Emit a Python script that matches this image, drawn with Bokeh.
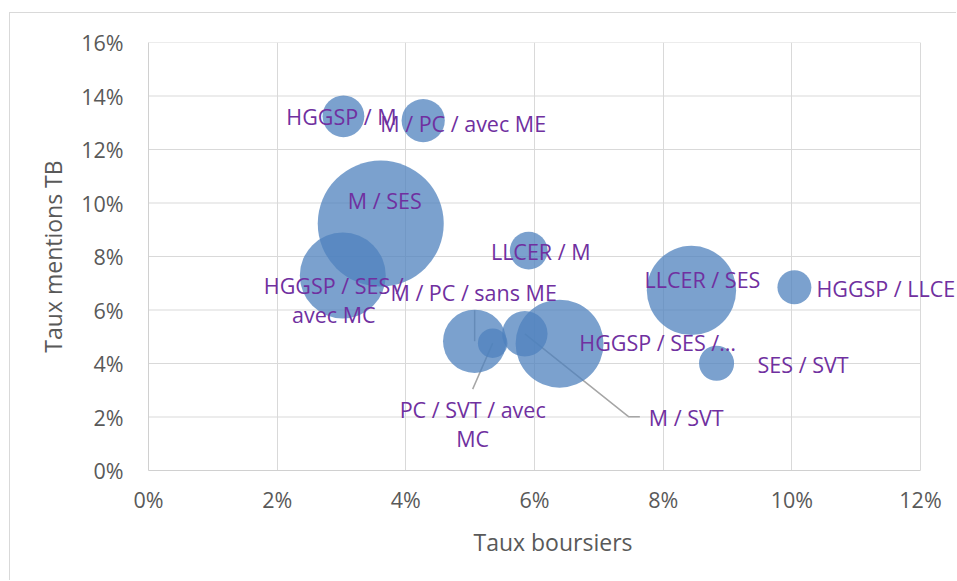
from bokeh.plotting import figure
from bokeh.models import (ColumnDataSource, LabelSet, SingleIntervalTicker,
                          PrintfTickFormatter, Range1d)
from bokeh.core.properties import value
from bokeh.embed import file_html
from bokeh.resources import INLINE
import math

# ---- data (percent units) ----
names = ["HGGSP / M", "M / PC / avec ME", "M / SES", "HGGSP / SES /\navec MC",
         "LLCER / M", "M / PC / sans ME", "PC / SVT / avec\nMC", "M / SVT",
         "HGGSP / SES /…", "LLCER / SES", "HGGSP / LLCER", "SES / SVT"]
taux_boursiers = [3.03, 4.27, 3.61, 3.02, 5.91, 5.07, 5.35, 5.85, 6.39, 8.44, 10.04, 8.83]
taux_mentions_tb = [13.24, 13.08, 9.23, 7.29, 8.22, 4.83, 4.76, 5.11, 4.74, 6.73, 6.85, 4.01]
effectifs = [44, 47, 400, 186, 36, 101, 22, 52, 195, 201, 29, 31]
x_axis_max = 12
y_axis_max = 16
x_ticks_step = 2
y_ticks_step = 2

# ---- layout constants ----
OFF_X, OFF_Y = 10, 13          # canvas origin in the page (after css margin+border)
W, H = 957 - OFF_X, 581 - OFF_Y
ML, MT = 148 - OFF_X, 42 - OFF_Y
PLOT_RIGHT, PLOT_BOTTOM = 920 - OFF_X, 470 - OFF_Y
MB = H - PLOT_BOTTOM
PXX = (PLOT_RIGHT - ML) / x_axis_max
PXY = (PLOT_BOTTOM - MT) / y_axis_max
X_END = (W - ML) / PXX          # frame extends to the canvas edge (labels may overflow)
MAX_DIAM = 126
GRID = "#d9d9d9"
LABEL_SIZE = "21.5px"
LINE_SP = 29

# label offsets in screen pixels (dx right, dy down) and alignment
lab_dx = [-2, 40, 4, -9, 12, -1, -20, 124, 98, 11, 22, 41]
lab_dy = [0, 3, -23, 24.5, 1, -49, 81, 84, -1, -11, 1, 1]
lab_align = ["center", "center", "center", "center", "center", "center", "center",
             "left", "center", "center", "left", "left"]
# leader lines: index -> pixel offsets of points after the bubble centre
leaders = {5: [(0, -31)], 6: [(-20, 46)], 7: [(104, 83), (115, 83)]}

diam = [MAX_DIAM * math.sqrt(v / max(effectifs)) for v in effectifs]

p = figure(width=W, height=H, output_backend="svg", toolbar_location=None,
           x_range=Range1d(0, X_END), y_range=Range1d(0, y_axis_max),
           min_border_left=ML, min_border_right=0, min_border_top=MT,
           min_border_bottom=MB)
p.styles = {"margin-left": "9px", "margin-top": "12px",
            "border-left": "1px solid #d9d9d9", "border-top": "1px solid #d9d9d9"}
p.outline_line_color = None
p.background_fill_color = "white"
p.border_fill_color = "white"

for ax, step in ((p.xaxis[0], x_ticks_step), (p.yaxis[0], y_ticks_step)):
    ax.ticker = SingleIntervalTicker(interval=step)
    ax.formatter = PrintfTickFormatter(format="%d%%")
    ax.major_tick_line_color = None
    ax.minor_tick_line_color = None
    ax.axis_line_color = "#d0d0d0"
    ax.major_label_text_font = "Open Sans"
    ax.major_label_text_font_size = "21.5px"
    ax.major_label_text_color = "#595959"
    ax.axis_label_text_font = "Open Sans"
    ax.axis_label_text_font_size = "23px"
    ax.axis_label_text_color = "#595959"
    ax.axis_label_text_font_style = "normal"
p.xaxis.bounds = (0, x_axis_max)
p.xaxis.axis_label = "Taux boursiers"
p.yaxis.axis_label = "Taux mentions TB"
p.xaxis.major_label_standoff = 8
p.xaxis.axis_label_standoff = 9
p.yaxis.major_label_standoff = 19
p.yaxis.axis_label_standoff = 9

# vertical grid from bokeh, horizontal grid limited to the 0..12 % plot area
p.xgrid.ticker = SingleIntervalTicker(interval=x_ticks_step)
p.xgrid.grid_line_color = GRID
p.xgrid.bounds = (0, x_axis_max)
p.ygrid.visible = False
gy = list(range(y_ticks_step, y_axis_max + 1, y_ticks_step))
p.segment(x0=[0] * len(gy), x1=[x_axis_max] * len(gy), y0=gy, y1=gy,
          line_color=GRID, line_width=1)

src = ColumnDataSource(dict(x=taux_boursiers, y=taux_mentions_tb, d=diam))

# leader lines
lx, ly = [], []
for i, pts in leaders.items():
    xs = [taux_boursiers[i]] + [taux_boursiers[i] + a / PXX for a, b in pts]
    ys = [taux_mentions_tb[i]] + [taux_mentions_tb[i] - b / PXY for a, b in pts]
    lx.append(xs)
    ly.append(ys)
p.multi_line(lx, ly, line_color="#a6a6a6", line_width=1.5)

p.scatter("x", "y", size="d", source=src, fill_color="#4f81bd", fill_alpha=0.75,
          line_color=None)

# labels: one entry per text line so that each line is centred on its own
for align in ("center", "left"):
    cols = dict(x=[], y=[], name=[], dx=[], dy=[])
    for i, a in enumerate(lab_align):
        if a != align:
            continue
        lines = names[i].split("\n")
        n = len(lines)
        for k, line in enumerate(lines):
            cols["x"].append(taux_boursiers[i])
            cols["y"].append(taux_mentions_tb[i])
            cols["name"].append(line)
            cols["dx"].append(lab_dx[i])
            cols["dy"].append(-(lab_dy[i] + (k - (n - 1) / 2) * LINE_SP))
    p.add_layout(LabelSet(x="x", y="y", text="name", x_offset="dx", y_offset="dy",
                          source=ColumnDataSource(cols), text_align=align,
                          text_baseline="middle",
                          text_font=value("Open Sans"), text_font_size=value(LABEL_SIZE),
                          text_color="#7030a0"))

open("out.html", "w").write(file_html(p, INLINE))
